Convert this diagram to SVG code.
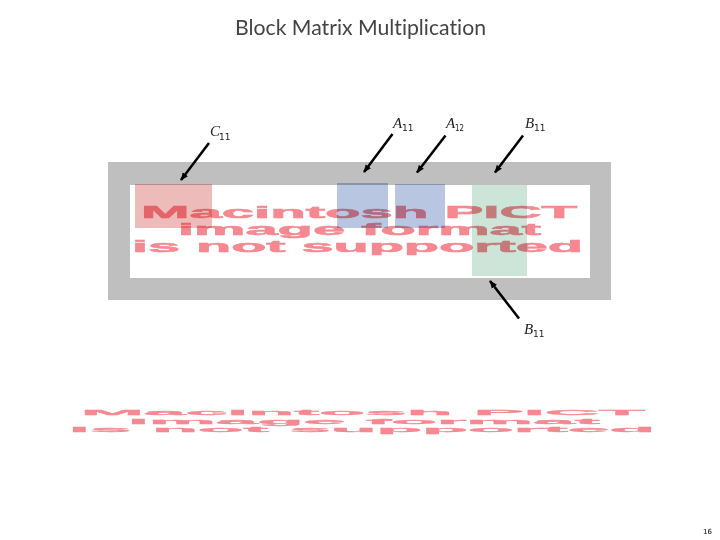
<svg xmlns="http://www.w3.org/2000/svg" width="720" height="540" viewBox="0 0 720 540">
<style>
.title{font-family:"Lato","Open Sans",sans-serif;font-size:21px;fill:#444;font-variant-ligatures:none}
.pict{font-family:"Liberation Sans",Arial,sans-serif;font-weight:700;fill:#f58890;stroke:#f58890}
.big{font-size:17px;stroke-width:.55px}
.small{font-size:9px;stroke-width:.3px}
.lab{font-family:"Liberation Serif",serif;font-style:italic;font-size:15px;fill:#222}
.sub{font-family:"DejaVu Sans",sans-serif;font-size:9px;fill:#222}
.hl{mix-blend-mode:multiply}
.arrow{stroke:#000;stroke-width:2.500;fill:none;marker-end:url(#head)}
.page{font-family:"DejaVu Sans",sans-serif;font-size:7px;fill:#000}
</style>
<defs>
<marker id="head" viewBox="0 0 10 10" refX="9" refY="5" markerWidth="3.200" markerHeight="3.200" markerUnits="strokeWidth" orient="auto"><path d="M0 1L10 5L0 9z" fill="#000"/></marker>
<filter id="soft" x="-5%" y="-20%" width="110%" height="140%"><feGaussianBlur stdDeviation="0.5"/></filter>
</defs>
<rect width="720" height="540" fill="#fff"/>
<text id="title" class="title" x="235" y="35" textLength="251" lengthAdjust="spacingAndGlyphs">Block Matrix Multiplication</text>
<g id="frame">
<rect x="108" y="162" width="503" height="138" fill="#bfbfbf"/>
<rect x="130" y="185" width="460" height="93" fill="#fff"/>
</g>
<g id="pict-upper" filter="url(#soft)">
<text class="pict big" x="141" y="218" textLength="436" lengthAdjust="spacingAndGlyphs">Macintosh PICT</text>
<text class="pict big" x="178" y="235" textLength="363" lengthAdjust="spacingAndGlyphs">image format</text>
<text class="pict big" x="132" y="252" textLength="451" lengthAdjust="spacingAndGlyphs">is not supported</text>
</g>
<g id="C11-block"><rect class="hl" x="135" y="184" width="77" height="44" fill="#eebbbb"/></g>
<g id="A11-block"><rect class="hl" x="337" y="183" width="51" height="45" fill="#b8c6e2"/></g>
<g id="A12-block"><rect class="hl" x="395" y="184" width="50" height="44" fill="#b8c6e2"/></g>
<g id="B11-block"><rect class="hl" x="472" y="185" width="55" height="91" fill="#cde4d8"/></g>
<g id="connectors">
<line class="arrow" x1="209" y1="143" x2="181" y2="180"/>
<line class="arrow" x1="392.500" y1="134" x2="364" y2="172"/>
<line class="arrow" x1="445.500" y1="135.500" x2="417" y2="172.500"/>
<line class="arrow" x1="523" y1="135.500" x2="495" y2="172.500"/>
<line class="arrow" x1="519" y1="318.500" x2="490" y2="281"/>
</g>
<g id="label-C11"><text class="lab" x="210" y="136">C</text><text class="sub" x="219" y="140">11</text></g>
<g id="label-A11"><text class="lab" x="393" y="128">A</text><text class="sub" x="402" y="131">11</text></g>
<g id="label-A12"><text class="lab" x="446" y="128">A</text><text class="sub" x="455" y="131" textLength="9" lengthAdjust="spacingAndGlyphs">12</text></g>
<g id="label-B11-top"><text class="lab" x="525" y="128">B</text><text class="sub" x="534" y="131">11</text></g>
<g id="label-B11-bottom"><text class="lab" x="524" y="334">B</text><text class="sub" x="533" y="337">11</text></g>
<g id="pict-lower" filter="url(#soft)">
<text class="pict small" transform="translate(81 415) scale(1 .85)" textLength="564" lengthAdjust="spacingAndGlyphs">Macintosh PICT</text>
<text class="pict small" transform="translate(128 423.500) scale(1 .85)" textLength="472" lengthAdjust="spacingAndGlyphs">image format</text>
<text class="pict small" transform="translate(69 431.500) scale(1 .85)" textLength="586" lengthAdjust="spacingAndGlyphs">is not supported</text>
</g>
<text id="page" class="page" x="703" y="534">16</text>
</svg>
